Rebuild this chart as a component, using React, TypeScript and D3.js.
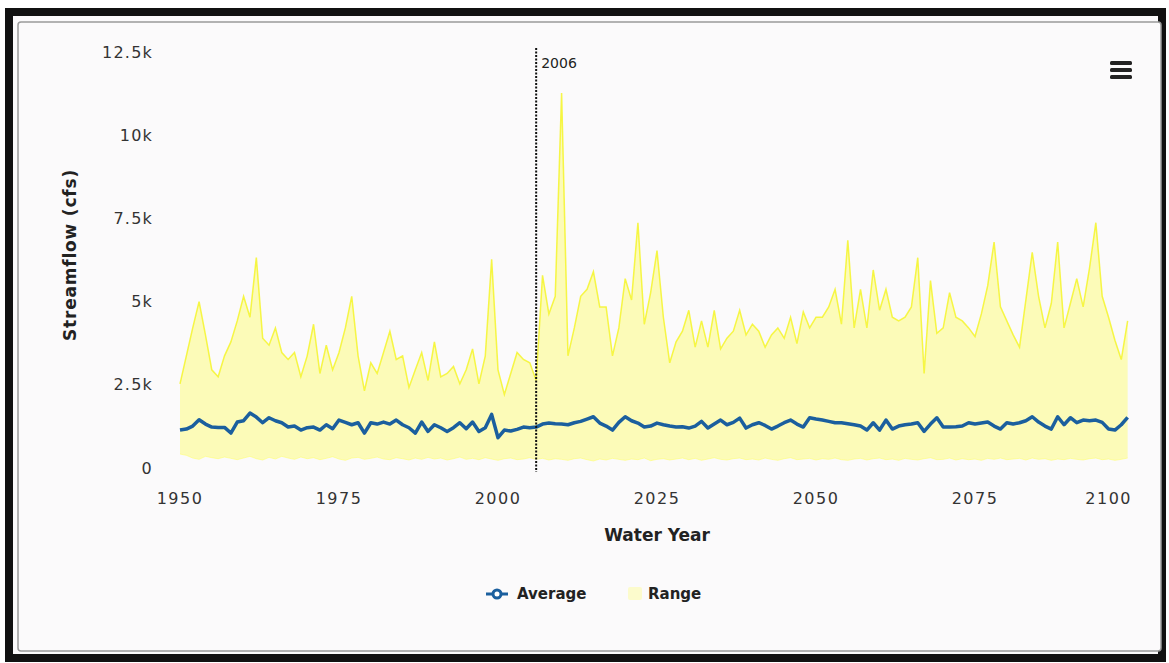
import React from "react";
import * as d3 from "d3";

// water years 1950 .. 2099
const years = d3.range(1950, 2100);

// ensemble range (high / low) and ensemble average, cfs
const rangeHigh = [
  2530, 3370, 4210, 5000, 4000, 2950, 2740, 3370, 3790, 4420,
  5160, 4530, 6320, 3900, 3690, 4210, 3470, 3260, 3470, 2740,
  3370, 4320, 2840, 3690, 2950, 3470, 4210, 5160, 3370, 2320,
  3160, 2840, 3470, 4110, 3260, 3370, 2420, 2950, 3470, 2630,
  3790, 2740, 2840, 3050, 2530, 2950, 3580, 2530, 3370, 6270,
  2950, 2210, 2840, 3470, 3260, 3160, 2630, 5790, 4630, 5160,
  11270, 3370, 4210, 5160, 5370, 5900, 4840, 4840, 3370, 4210,
  5690, 5050, 7370, 4320, 5270, 6530, 4530, 3160, 3790, 4110,
  4740, 3630, 4420, 3630, 4740, 3580, 3900, 4110, 4740, 4000,
  4320, 4110, 3630, 4000, 4210, 3900, 4530, 3740, 4690, 4210,
  4530, 4530, 4840, 5370, 4320, 6840, 4210, 5370, 4210, 5950,
  4740, 5370, 4530, 4420, 4530, 4840, 6320, 2840, 5630, 4050,
  4210, 5270, 4530, 4420, 4210, 3950, 4630, 5480, 6790, 4840,
  4420, 4000, 3630, 5050, 6480, 5160, 4210, 4950, 6790, 4210,
  4950, 5690, 4840, 6000, 7370, 5160, 4530, 3840, 3260, 4420,
];

const rangeLow = [
  420, 380, 300, 260, 350, 310, 280, 330, 290, 250,
  300, 350, 280, 240, 320, 270, 350, 300, 260, 330,
  280, 310, 250, 290, 340, 270, 230, 300, 320, 260,
  290, 330, 270, 250, 310, 280, 240, 300, 260, 320,
  270, 300, 240, 280, 330, 260, 290, 250, 310, 270,
  230, 280, 300, 250, 270, 310, 260, 290, 240, 280,
  260, 230, 280, 300, 250, 210, 270, 240, 290, 260,
  230, 270, 250, 300, 220, 260, 280, 240, 270, 300,
  250, 290, 230, 270, 310, 260, 240, 280, 300, 250,
  270, 240, 300, 260, 230, 280, 310, 250, 270, 290,
  240, 280, 260, 300, 250, 230, 270, 290, 240, 280,
  300, 250, 270, 230, 290, 260, 240, 280, 310, 250,
  260, 300, 240, 280, 250, 270, 230, 290, 260, 300,
  250, 270, 290, 240, 300, 260, 280, 230, 270, 250,
  290, 260, 240, 280, 300, 250, 270, 230, 260, 300,
];

const average = [
  1140, 1170, 1260, 1450, 1320, 1230, 1220, 1220, 1050, 1380,
  1420, 1650, 1530, 1360, 1510, 1420, 1360, 1230, 1260, 1140,
  1210, 1230, 1140, 1300, 1180, 1440, 1370, 1300, 1360, 1050,
  1360, 1320, 1380, 1320, 1440, 1300, 1210, 1050, 1380, 1100,
  1300, 1210, 1100, 1210, 1360, 1180, 1380, 1100, 1210, 1610,
  910, 1140, 1110, 1160, 1230, 1210, 1230, 1320, 1350, 1330,
  1320, 1300, 1360, 1400, 1470, 1540, 1350, 1260, 1140, 1370,
  1540, 1420, 1350, 1230, 1260, 1350, 1300, 1260, 1230, 1240,
  1200, 1260, 1400, 1200, 1320, 1440, 1300, 1370, 1500, 1200,
  1300, 1360, 1280, 1170, 1260, 1360, 1440, 1320, 1230, 1510,
  1470, 1440, 1400, 1360, 1360, 1330, 1300, 1260, 1140, 1360,
  1140, 1440, 1170, 1260, 1300, 1320, 1360, 1100, 1320, 1510,
  1230, 1230, 1240, 1260, 1360, 1320, 1350, 1380, 1260, 1170,
  1360, 1320, 1360, 1420, 1540, 1380, 1260, 1170, 1540, 1300,
  1510, 1360, 1440, 1420, 1440, 1370, 1170, 1140, 1300, 1520,
];

const xTicks = [1950, 1975, 2000, 2025, 2050, 2075, 2100];
const yTicks = [0, 2500, 5000, 7500, 10000, 12500];
const markerYear = 2006;

const W = 1169;
const H = 663;
const plot = { left: 180, right: 1134, top: 48, bottom: 470 };

const BLUE = "#1b5f9e";
const YELLOW = "#f4f42a";
const FONT = "'DejaVu Sans', Verdana, sans-serif";

export default function App() {
  const x = d3.scaleLinear().domain([1950, 2100]).range([plot.left, plot.right]);
  const y = d3.scaleLinear().domain([0, 12500]).range([468, 52]);

  const rows = years.map((yr, i) => ({
    yr,
    lo: rangeLow[i],
    hi: rangeHigh[i],
    avg: average[i],
  }));

  const area = d3
    .area<any>()
    .x((d) => x(d.yr))
    .y0((d) => y(d.lo))
    .y1((d) => y(d.hi));
  const hiLine = d3.line<any>().x((d) => x(d.yr)).y((d) => y(d.hi));
  const loLine = d3.line<any>().x((d) => x(d.yr)).y((d) => y(d.lo));
  const avgLine = d3.line<any>().x((d) => x(d.yr)).y((d) => y(d.avg));

  const fmt = (v: number) => (v === 0 ? "0" : `${v / 1000}k`);

  return (
    <svg
      width={W}
      height={H}
      style={{ position: "absolute", left: 0, top: 0, fontFamily: FONT }}
    >
      <rect x={0} y={0} width={W} height={H} fill="#ffffff" />
      {/* frame */}
      <rect x={9} y={12} width={1153} height={646} fill="#fbfafb" stroke="#111" strokeWidth={8} />
      <rect x={18} y={22} width={1143} height={629} rx={3} fill="#fbfafb" stroke="#9a9a9a" strokeWidth={1.5} />

      {/* range */}
      <path d={area(rows) || ""} fill="#ffff1e" fillOpacity={0.3} />
      <path d={loLine(rows) || ""} fill="none" stroke="#ffff60" strokeOpacity={0.5} strokeWidth={1} />
      <path d={hiLine(rows) || ""} fill="none" stroke={YELLOW} strokeOpacity={0.85} strokeWidth={1.5} />

      {/* average */}
      <path d={avgLine(rows) || ""} fill="none" stroke={BLUE} strokeWidth={3.5} strokeLinejoin="round" />

      {/* 2006 marker line */}
      <line
        x1={x(markerYear)}
        x2={x(markerYear)}
        y1={plot.top}
        y2={plot.bottom + 2}
        stroke="#111"
        strokeWidth={2}
        strokeDasharray="2,1.5"
      />
      <text x={x(markerYear) + 5} y={68} fontSize={14} fill="#222">
        {markerYear}
      </text>

      {/* y axis labels */}
      {yTicks.map((t) => (
        <text
          key={t}
          x={153}
          y={y(t)}
          dy="0.35em"
          textAnchor="end"
          fontSize={16}
          letterSpacing={1.2}
          fill="#333"
        >
          {fmt(t)}
        </text>
      ))}
      <text
        transform={`translate(76,${255}) rotate(-90)`}
        textAnchor="middle"
        fontSize={17}
        fontWeight="bold"
        letterSpacing={0.8}
        fill="#222"
      >
        Streamflow (cfs)
      </text>

      {/* x axis labels */}
      {xTicks.map((t, i) => (
        <text
          key={t}
          x={i === xTicks.length - 1 ? x(t) - 2 : x(t)}
          y={504}
          textAnchor={i === xTicks.length - 1 ? "end" : "middle"}
          fontSize={16}
          letterSpacing={1.5}
          fill="#333"
        >
          {t}
        </text>
      ))}
      <text x={657} y={541} textAnchor="middle" fontSize={17} fontWeight="bold" fill="#222">
        Water Year
      </text>

      {/* legend */}
      <g transform="translate(486,594)">
        <line x1={0} x2={22} y1={0} y2={0} stroke={BLUE} strokeWidth={3} />
        <circle cx={11} cy={0} r={4} fill="#fff" stroke={BLUE} strokeWidth={3} />
        <text x={31} y={0} dy="0.35em" fontSize={15} fontWeight="bold" fill="#222">
          Average
        </text>
        <rect x={142} y={-7} width={14} height={13} rx={2} fill="#ffff40" fillOpacity={0.25} />
        <text x={162} y={0} dy="0.35em" fontSize={15} fontWeight="bold" fill="#222">
          Range
        </text>
      </g>

      {/* menu icon */}
      <g fill="#222">
        {[0, 1, 2].map((k) => (
          <rect key={k} x={1110} y={61 + k * 7} width={22} height={4} rx={1.5} />
        ))}
      </g>
    </svg>
  );
}
